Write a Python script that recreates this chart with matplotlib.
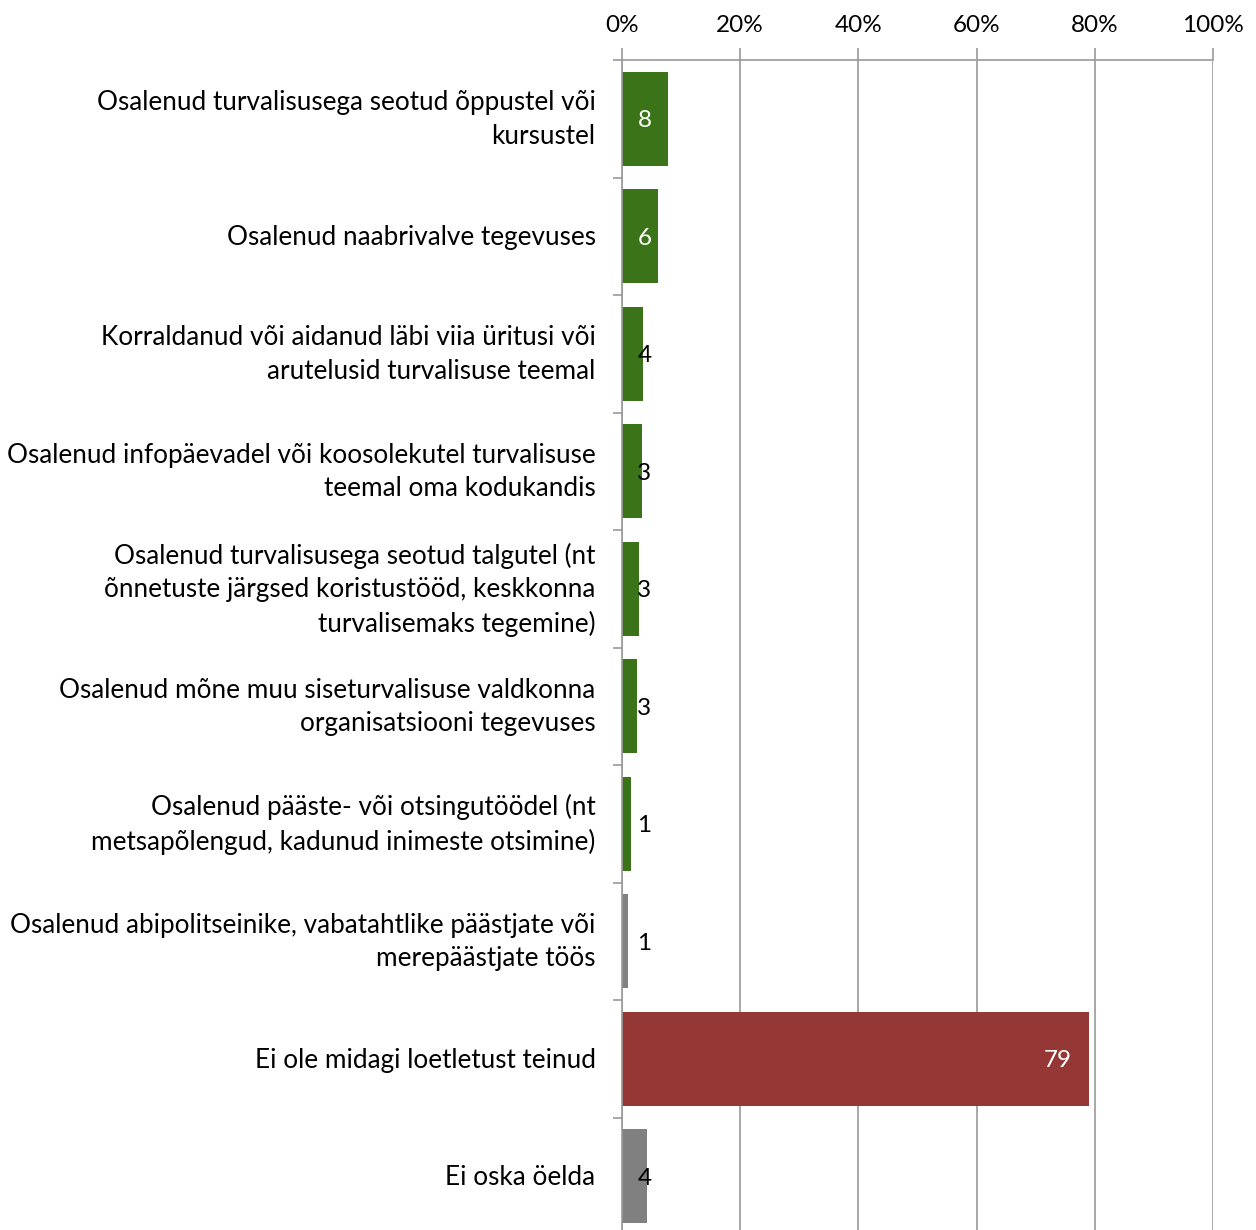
import matplotlib
matplotlib.use("Agg")
import matplotlib.pyplot as plt
from matplotlib.ticker import FixedLocator, PercentFormatter
import matplotlib.transforms as mtransforms

categories = [
    "Osalenud turvalisusega seotud õppustel või\nkursustel",
    "Osalenud naabrivalve tegevuses",
    "Korraldanud või aidanud läbi viia üritusi või\narutelusid turvalisuse teemal",
    "Osalenud infopäevadel või koosolekutel turvalisuse\nteemal oma kodukandis",
    "Osalenud turvalisusega seotud talgutel (nt\nõnnetuste järgsed koristustööd, keskkonna\nturvalisemaks tegemine)",
    "Osalenud mõne muu siseturvalisuse valdkonna\norganisatsiooni tegevuses",
    "Osalenud pääste- või otsingutöödel (nt\nmetsapõlengud, kadunud inimeste otsimine)",
    "Osalenud abipolitseinike, vabatahtlike päästjate või\nmerepäästjate töös",
    "Ei ole midagi loetletust teinud",
    "Ei oska öelda",
]
values = [7.8, 6.1, 3.6, 3.4, 2.9, 2.6, 1.45, 1.0, 79.0, 4.2]
labels = ["8", "6", "4", "3", "3", "3", "1", "1", "79", "4"]
groups = ["green"] * 7 + ["grey", "red", "grey"]
xticks = [0, 20, 40, 60, 80, 100]

colors = {"green": "#3B7318", "grey": "#808080", "red": "#953735"}
grid_c = "#9A9A9A"

plt.rcParams["font.family"] = ["Lato", "DejaVu Sans"]
fs_cat = 18.8
fs = 17.5

fig = plt.figure(figsize=(12.56, 12.30), dpi=100)
W, H = 1256, 1230
ax = fig.add_axes([622 / W, 1 - 1235 / H, (1213 - 622) / W, (1235 - 60) / H])

y = list(range(len(categories)))
ax.barh(y, values, height=0.8, color=[colors[g] for g in groups], zorder=3)

ax.set_xlim(0, 100)
ax.set_ylim(len(categories) - 0.5, -0.5)

ax.xaxis.tick_top()
ax.xaxis.set_major_locator(FixedLocator(xticks))
ax.xaxis.set_major_formatter(PercentFormatter(decimals=0))
ax.tick_params(axis="x", which="major", length=8.6, width=1.2, color=grid_c,
               direction="out", pad=9, labelsize=fs)
ax.grid(axis="x", color=grid_c, linewidth=1.2, zorder=0)

ax.set_yticks(y)
ax.set_yticklabels(categories, fontsize=fs_cat, linespacing=1.42, ha="right")
ax.tick_params(axis="y", which="major", length=0, pad=19)
for t in ax.get_yticklabels():
    px = 6 if "\n" in t.get_text() else 1
    shift = mtransforms.ScaledTranslation(0, px / 100, fig.dpi_scale_trans)
    t.set_transform(t.get_transform() + shift)
ax.yaxis.set_minor_locator(FixedLocator([i - 0.5 for i in range(len(categories) + 1)]))
ax.tick_params(axis="y", which="minor", length=6.5, width=1.2, color=grid_c, direction="out")

for s in ["right", "bottom"]:
    ax.spines[s].set_visible(False)
for s in ["left", "top"]:
    ax.spines[s].set_color(grid_c)
    ax.spines[s].set_linewidth(1.2)
ax.spines["left"].set_zorder(4)

for yi, v, lab in zip(y, values, labels):
    if v >= 20:
        off = mtransforms.offset_copy(ax.transData, fig=fig, x=-17, y=-2, units="dots")
        ax.text(v, yi, lab, ha="right", va="center", color="white", fontsize=fs,
                transform=off, zorder=5)
    else:
        off = mtransforms.offset_copy(ax.transData, fig=fig, x=0, y=-2, units="dots")
        ax.text(3.8, yi, lab, ha="center", va="center", transform=off,
                color="white" if v >= 5 else "black", fontsize=fs, zorder=5)

fig.savefig("out.png", dpi=100)
